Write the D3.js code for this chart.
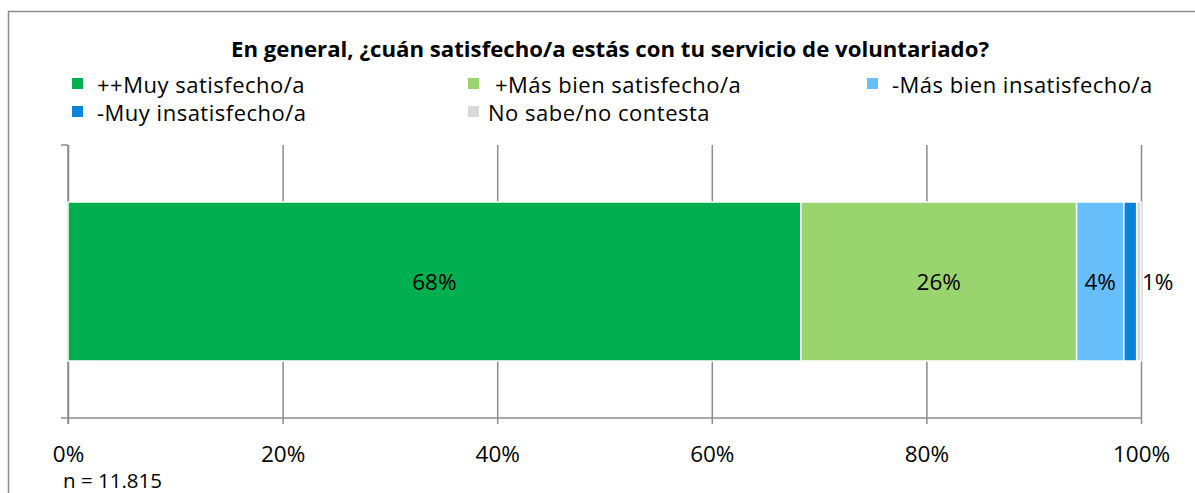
<!DOCTYPE html>
<html>
<head>
<meta charset="utf-8">
<script src="https://cdn.jsdelivr.net/npm/d3@7"></script>
<style>
	body { margin: 0; background: #fff; }
	text { font-family: "Open Sans", "Noto Sans", sans-serif; fill: #000; }
</style>
</head>
<body>
<svg id="chart" width="1195" height="493"></svg>
<script>
// data
var title = "En general, ¿cuán satisfecho/a estás con tu servicio de voluntariado?";
var categories = ["++Muy satisfecho/a", "+Más bien satisfecho/a", "-Más bien insatisfecho/a", "-Muy insatisfecho/a", "No sabe/no contesta"];
var values = [68.3, 25.7, 4.4, 1.2, 0.4];
var colors = ["#00B050", "#9AD46E", "#66BFFB", "#0B84D8", "#D9D9D9"];
var tickValues = [0, 20, 40, 60, 80, 100];
var note = "n = 11.815";

var svg = d3.select("#chart");
var plot = { left: 68, right: 1141, top: 145, bottom: 418 };
var gridColor = "#8c8c8c";

// outer frame (only left and top are in view)
svg.append("path")
	.attr("d", "M8.5,493 V11.5 H1195")
	.style("fill", "none")
	.style("stroke", gridColor)
	.style("stroke-width", 1.5);

var x = d3.scaleLinear().domain([0, 100]).range([plot.left, plot.right]);
var y = d3.scaleBand().domain(["row"]).range([plot.top, plot.bottom]).paddingInner(0).paddingOuter(0.3585);

// gridlines + ticks
var grid = svg.append("g")
	.attr("transform", "translate(0," + plot.bottom + ")")
	.call(d3.axisBottom(x)
		.tickValues(tickValues)
		.tickFormat(d => d + "%"));
grid.select(".domain").remove();
grid.selectAll(".tick line")
	.attr("y1", -(plot.bottom - plot.top))
	.attr("y2", 6)
	.style("stroke", gridColor)
	.style("stroke-width", 1.5);
grid.selectAll(".tick text")
	.attr("y", 44)
	.attr("dy", 0)
	.style("font-size", "22.5px")
	.style("font-family", "'Open Sans', sans-serif");

// axes lines
svg.append("line")
	.attr("x1", plot.left - 7).attr("x2", plot.right)
	.attr("y1", plot.bottom).attr("y2", plot.bottom)
	.style("stroke", gridColor).style("stroke-width", 1.5);
svg.append("line")
	.attr("x1", plot.left).attr("x2", plot.left)
	.attr("y1", plot.top).attr("y2", plot.bottom + 6)
	.style("stroke", gridColor).style("stroke-width", 1.5);
svg.append("line")
	.attr("x1", plot.left - 7).attr("x2", plot.left)
	.attr("y1", plot.top).attr("y2", plot.top)
	.style("stroke", gridColor).style("stroke-width", 1.5);

// stacked segments
var stacked = [];
var acc = 0;
values.forEach(function(v, i) {
	stacked.push({ key: categories[i], value: v, x0: acc, x1: acc + v, color: colors[i] });
	acc += v;
});

svg.append("g").selectAll("rect")
	.data(stacked)
	.enter()
	.append("rect")
	.attr("x", d => x(d.x0))
	.attr("width", d => x(d.x1) - x(d.x0))
	.attr("y", y("row"))
	.attr("height", y.bandwidth())
	.style("fill", d => d.color)
	.style("stroke", "#fff")
	.style("stroke-width", 1.5);

// labels; narrow segments get their label just past the end of the bar
var labels = stacked.filter(d => Math.round(d.value) >= 1);
svg.append("g").selectAll("text")
	.data(labels)
	.enter()
	.append("text")
	.attr("x", function(d) {
		var w = x(d.x1) - x(d.x0);
		return w < 30 ? x(100) + 1 : (x(d.x0) + x(d.x1)) / 2;
	})
	.attr("text-anchor", function(d) {
		return (x(d.x1) - x(d.x0)) < 30 ? "start" : "middle";
	})
	.attr("y", y("row") + y.bandwidth() / 2)
	.attr("dy", "0.36em")
	.style("font-size", "22.5px")
	.text(d => Math.round(d.value) + "%");

// title
svg.append("text")
	.attr("x", 610)
	.attr("y", 57)
	.attr("text-anchor", "middle")
	.style("font-size", "22.2px")
	.style("font-weight", "bold")
	.text(title);

// legend
var legendPos = [[72, 93], [468, 93], [867, 93], [72, 121], [468, 121]];
var legend = svg.append("g").selectAll("g")
	.data(categories)
	.enter()
	.append("g")
	.attr("transform", (d, i) => "translate(" + legendPos[i][0] + "," + legendPos[i][1] + ")");
legend.append("rect")
	.attr("x", 0).attr("y", -15)
	.attr("width", 11).attr("height", 11)
	.style("fill", (d, i) => colors[i]);
legend.append("text")
	.attr("x", (d, i) => i == 4 ? 20 : (i == 1 ? 27 : 25))
	.attr("y", 0)
	.style("font-size", "22px")
	.style("letter-spacing", "0.5px")
	.text(d => d);

// sample size note
svg.append("text")
	.attr("x", 63)
	.attr("y", 488)
	.style("font-size", "20.5px")
	.text(note);
</script>
</body>
</html>
